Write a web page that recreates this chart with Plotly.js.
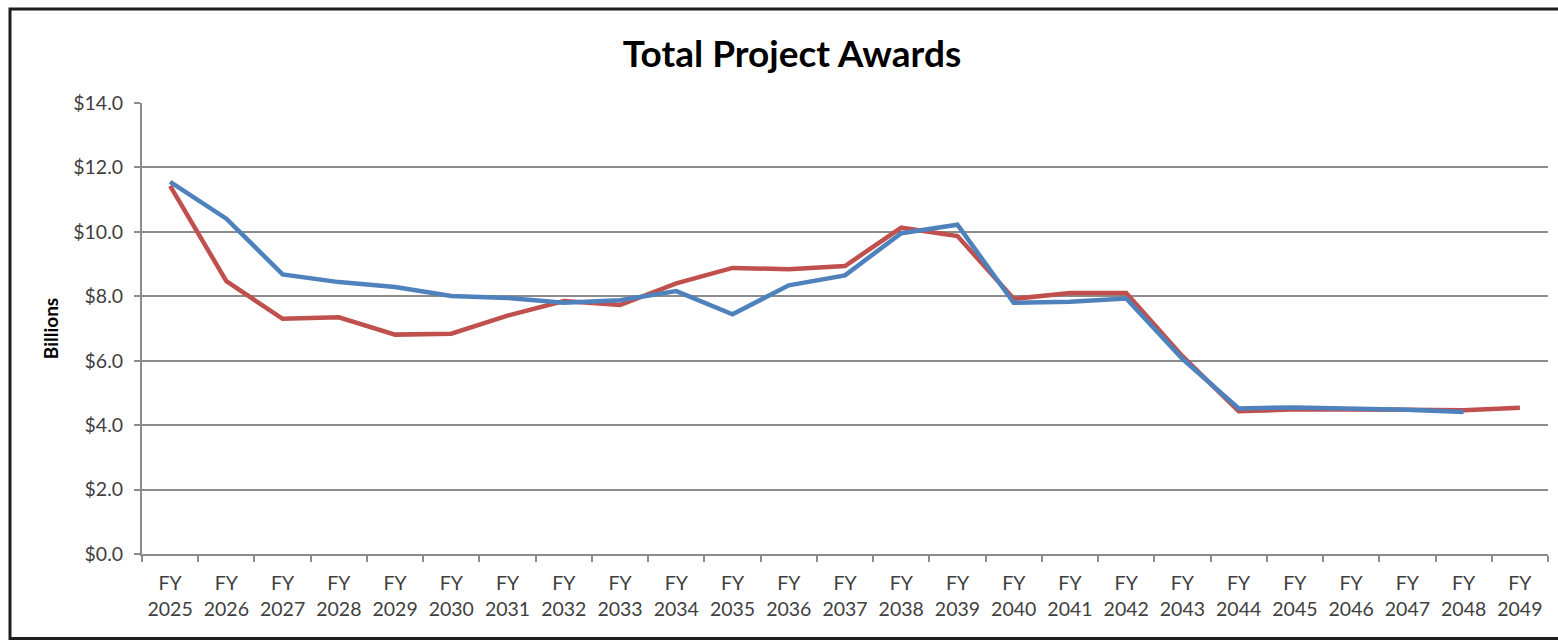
<!DOCTYPE html>
<html>
<head>
<meta charset="utf-8">
<script src="https://cdn.plot.ly/plotly-3.0.1.min.js"></script>
<style>
  html, body { margin: 0; padding: 0; background: #ffffff; }
  #chart { width: 1558px; height: 641px; }
</style>
</head>
<body>
<div id="chart"></div>
<script>
const categories = ["FY<br>2025","FY<br>2026","FY<br>2027","FY<br>2028","FY<br>2029","FY<br>2030","FY<br>2031","FY<br>2032","FY<br>2033","FY<br>2034","FY<br>2035","FY<br>2036","FY<br>2037","FY<br>2038","FY<br>2039","FY<br>2040","FY<br>2041","FY<br>2042","FY<br>2043","FY<br>2044","FY<br>2045","FY<br>2046","FY<br>2047","FY<br>2048","FY<br>2049"];
const redSeries = [11.43, 8.47, 7.30, 7.35, 6.81, 6.84, 7.40, 7.85, 7.73, 8.40, 8.88, 8.84, 8.94, 10.13, 9.87, 7.92, 8.10, 8.10, 6.14, 4.43, 4.49, 4.50, 4.48, 4.46, 4.54];
const blueSeries = [11.55, 10.41, 8.68, 8.44, 8.29, 8.01, 7.95, 7.80, 7.88, 8.16, 7.44, 8.34, 8.65, 9.96, 10.22, 7.80, 7.83, 7.93, 6.06, 4.52, 4.55, 4.53, 4.48, 4.41, null];
const yTickValues = [0, 2, 4, 6, 8, 10, 12, 14];

const W = 1558, H = 641;
const M = {l: 142, r: 10, t: 103, b: 87};
const PW = W - M.l - M.r, PH = H - M.t - M.b;
const px = v => (v - M.l) / PW;
const py = v => 1 - (v - M.t) / PH;

const FONT = "Lato, 'Open Sans', sans-serif";

const traces = [
  {
    x: categories, y: redSeries, type: 'scatter', mode: 'lines', name: 'Series A',
    line: {color: '#C0504D', width: 4.5}
  },
  {
    x: categories, y: blueSeries, type: 'scatter', mode: 'lines', name: 'Series B',
    line: {color: '#4F81BD', width: 4.5}
  }
];

const layout = {
  width: W, height: H,
  margin: M,
  paper_bgcolor: '#ffffff',
  plot_bgcolor: '#ffffff',
  showlegend: false,
  font: {family: FONT, color: '#404040'},
  title: {
    text: '<b>Total Project Awards</b>',
    font: {family: FONT, size: 37, color: '#000000'},
    xref: 'container', yref: 'container',
    x: 792 / W, y: 1 - 54 / H, xanchor: 'center', yanchor: 'middle'
  },
  xaxis: {
    type: 'category',
    range: [-0.5, categories.length - 0.5],
    showgrid: false,
    zeroline: false,
    showline: true, linecolor: '#8c8c8c', linewidth: 2,
    ticks: 'outside', ticklen: 6, tickcolor: '#8c8c8c', tickwidth: 2,
    tickson: 'boundaries',
    tickfont: {family: FONT, size: 19.5, color: '#404040'},
    ticklabelstandoff: 11,
    tickangle: 0,
    fixedrange: true
  },
  yaxis: {
    range: [0, 14],
    tickvals: yTickValues,
    tickformat: '$.1f',
    showgrid: true, gridcolor: '#8c8c8c', gridwidth: 2,
    zeroline: false,
    showline: true, linecolor: '#8c8c8c', linewidth: 2,
    ticks: 'outside', ticklen: 6, tickcolor: '#8c8c8c', tickwidth: 2,
    tickfont: {family: FONT, size: 19.5, color: '#404040'},
    ticklabelstandoff: 7,
    title: {text: '<b>Billions</b>', font: {family: FONT, size: 19, color: '#000000'}, standoff: 10},
    automargin: false,
    fixedrange: true
  },
  shapes: [
    {
      type: 'rect', xref: 'paper', yref: 'paper',
      x0: px(10), x1: px(1570), y0: py(638.5), y1: py(9),
      line: {color: '#1e1e1e', width: 3}, fillcolor: 'rgba(0,0,0,0)', layer: 'above'
    }
  ]
};

Plotly.newPlot('chart', traces, layout, {displayModeBar: false, staticPlot: true});
</script>
</body>
</html>
